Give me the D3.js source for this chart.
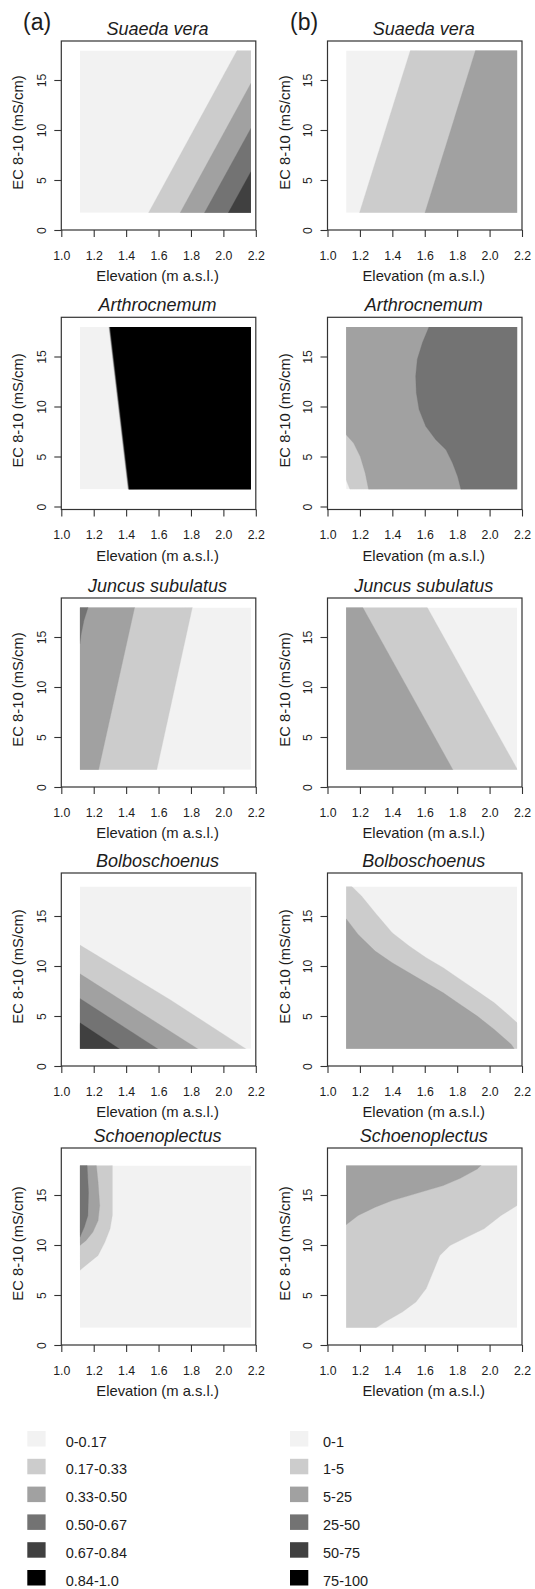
<!DOCTYPE html>
<html><head><meta charset="utf-8">
<script src="https://cdn.jsdelivr.net/npm/d3@7"></script>
<style>
body{margin:0;background:#fff}
svg{display:block}
text{font-family:"Liberation Sans",Arial,sans-serif;fill:#1c1c1c}
</style>
</head><body>
<svg id="chart" width="535" height="1589"></svg>
<script>
// ---------- data ----------
const species = ["Suaeda vera","Arthrocnemum","Juncus subulatus","Bolboschoenus","Schoenoplectus"];
const panelLabels = ["(a)","(b)"];
const xTicks = [1.0,1.2,1.4,1.6,1.8,2.0,2.2];
const yTicks = [0,5,10,15];
const classColors = ["#f2f2f2","#cccccc","#a1a1a1","#737373","#404040","#000000"];
const legendA = ["0-0.17","0.17-0.33","0.33-0.50","0.50-0.67","0.67-0.84","0.84-1.0"];
const legendB = ["0-1","1-5","5-25","25-50","50-75","75-100"];
// extent of the predicted grid (elevation, EC)
const gridX = [1.115, 2.17];
const gridY = [1.72, 17.95];

// class boundaries: each layer = region with class >= cls
const suaedaA = [
  {cls:1, line:[[1.536,1.65],[2.086,18]], corners:["TR","BR"]},
  {cls:2, line:[[1.731,1.65],[2.17,14.67]], corners:["BR"]},
  {cls:3, line:[[1.881,1.65],[2.17,10.17]], corners:["BR"]},
  {cls:4, line:[[2.028,1.65],[2.17,5.83]], corners:["BR"]}
];
const suaedaB = [
  {cls:1, line:[[1.196,1.65],[1.512,18]], corners:["TR","BR"]},
  {cls:2, line:[[1.600,1.65],[1.914,18]], corners:["TR","BR"]}
];
const arthroA = [
  {cls:1, line:[[1.412,1.65],[1.293,18]], corners:["TR","BR"]},
  {cls:2, line:[[1.414,1.65],[1.295,18]], corners:["TR","BR"]},
  {cls:3, line:[[1.416,1.65],[1.297,18]], corners:["TR","BR"]},
  {cls:4, line:[[1.418,1.65],[1.299,18]], corners:["TR","BR"]},
  {cls:5, line:[[1.420,1.65],[1.301,18]], corners:["TR","BR"]}
];
const arthroB = [
  {cls:1, line:[[1.115,2.66],[1.125,2.25],[1.14,1.65]], corners:["BR","TR","TL"]},
  {cls:2, line:[[1.115,7.18],[1.161,6.34],[1.202,5.0],[1.233,3.33],[1.254,1.65]], corners:["BR","TR","TL"]},
  {cls:3, line:[[1.627,18],[1.586,16.39],[1.554,14.72],[1.544,13.04],[1.548,11.37],[1.565,9.69],[1.606,8.02],[1.668,6.68],[1.731,5.67],[1.772,4.33],[1.803,2.99],[1.824,1.65]], corners:["BR","TR"]}
];
const juncusA = [
  {cls:1, line:[[1.588,1.65],[1.809,18]], corners:["TL","BL"]},
  {cls:2, line:[[1.229,1.65],[1.453,18]], corners:["TL","BL"]},
  {cls:3, line:[[1.166,18],[1.140,16.67],[1.123,15.33],[1.115,14.33]], corners:["TL"]}
];
const juncusB = [
  {cls:1, line:[[1.614,18],[2.17,1.8]], corners:["BR","BL","TL"]},
  {cls:2, line:[[1.216,18],[1.776,1.65]], corners:["BL","TL"]}
];
const bolboA = [
  {cls:1, line:[[1.115,12.09],[1.674,6.6],[2.145,1.65]], corners:["BL"]},
  {cls:2, line:[[1.115,9.22],[1.848,1.65]], corners:["BL"]},
  {cls:3, line:[[1.115,6.75],[1.601,1.65]], corners:["BL"]},
  {cls:4, line:[[1.115,4.32],[1.364,1.65]], corners:["BL"]}
];
const bolboB = [
  {cls:1, line:[[1.147,18],[1.210,17.0],[1.294,15.33],[1.399,13.33],[1.504,11.99],[1.609,10.83],[1.714,9.82],[1.819,8.66],[1.924,7.49],[2.029,6.32],[2.113,5.15],[2.17,4.32]], corners:["BR","BL","TL"]},
  {cls:2, line:[[1.115,14.73],[1.189,13.16],[1.294,11.49],[1.399,10.33],[1.504,9.32],[1.609,8.32],[1.714,7.32],[1.819,6.15],[1.924,4.99],[2.029,3.65],[2.134,2.15],[2.155,1.65]], corners:["BL"]}
];
const schoenoA = [
  {cls:1, line:[[1.315,18],[1.315,12.95],[1.301,11.62],[1.269,10.29],[1.227,8.96],[1.164,8.13],[1.115,7.47]], corners:["TL"]},
  {cls:2, line:[[1.216,18],[1.227,16.27],[1.237,13.95],[1.227,12.45],[1.195,11.29],[1.153,10.46],[1.115,9.96]], corners:["TL"]},
  {cls:3, line:[[1.159,18],[1.168,15.28],[1.164,12.95],[1.142,11.79],[1.115,10.79]], corners:["TL"]}
];
const schoenoB = [
  {cls:1, line:[[1.294,1.65],[1.357,2.32],[1.462,3.31],[1.546,4.31],[1.609,5.64],[1.651,7.30],[1.693,8.96],[1.756,9.96],[1.861,10.79],[1.966,11.62],[2.071,12.95],[2.17,13.95]], corners:["TR","TL","BL"]},
  {cls:2, line:[[1.115,12.02],[1.189,12.95],[1.294,13.78],[1.399,14.44],[1.504,14.94],[1.609,15.44],[1.714,15.94],[1.819,16.67],[1.924,17.60],[1.949,18]], corners:["TL"]}
];
const panelsA = [suaedaA, arthroA, juncusA, bolboA, schoenoA];
const panelsB = [suaedaB, arthroB, juncusB, bolboB, schoenoB];

// ---------- layout ----------
const colX = [61.3, 327.5];
const plotW = 194.5;
const rowBottom = [230, 509.5, 787, 1066, 1345];
const rowTop = [41, 317.3, 598, 873, 1148];
const rowYAtBottom = [0, -0.3, 0, 0, 0];
const pxPerUnit = 10;

const svg = d3.select("#chart");
const cornerPts = {
  TL:[gridX[0]-0.05, gridY[1]+0.6], TR:[gridX[1]+0.05, gridY[1]+0.6],
  BR:[gridX[1]+0.05, gridY[0]-0.6], BL:[gridX[0]-0.05, gridY[0]-0.6]
};

function drawPanel(col, row, layers){
  const x0 = colX[col];
  const bottom = rowBottom[row], top = rowTop[row];
  const plotH = bottom - top;
  const yb = rowYAtBottom[row];
  const x = d3.scaleLinear().domain([1.0,2.2]).range([x0, x0+plotW]);
  const y = d3.scaleLinear().domain([yb, yb + plotH/pxPerUnit]).range([bottom, top]);
  const g = svg.append("g");
  const id = "clip"+col+"_"+row;
  g.append("clipPath").attr("id", id).append("rect")
    .attr("x", x(gridX[0])).attr("y", y(gridY[1]))
    .attr("width", x(gridX[1])-x(gridX[0])).attr("height", y(gridY[0])-y(gridY[1]));
  const fillG = g.append("g").attr("clip-path","url(#"+id+")");
  fillG.append("rect")
    .attr("x", x(gridX[0])).attr("y", y(gridY[1]))
    .attr("width", x(gridX[1])-x(gridX[0])).attr("height", y(gridY[0])-y(gridY[1]))
    .attr("fill", classColors[0]);
  const line = d3.line().x(d=>x(d[0])).y(d=>y(d[1]));
  layers.forEach(L=>{
    const pts = L.line.concat(L.corners.map(c=>cornerPts[c]));
    fillG.append("path").attr("d", line(pts)+"Z")
      .attr("fill", classColors[L.cls]).attr("stroke", classColors[L.cls]).attr("stroke-width",0.3);
  });
  // box
  g.append("rect").attr("x", x0).attr("y", top).attr("width", plotW).attr("height", plotH)
    .attr("fill","none").attr("stroke","#333").attr("stroke-width",1.2);
  // x axis
  const xa = g.append("g").attr("transform","translate(0,"+bottom+")")
    .call(d3.axisBottom(x).tickValues(xTicks).tickFormat(d3.format(".1f")).tickSize(7).tickPadding(14));
  xa.select(".domain").remove();
  xa.selectAll(".tick line").attr("stroke","#333").attr("stroke-width",1.1);
  xa.selectAll(".tick text").attr("y", 29.5).attr("dy",0).attr("font-size",12.3)
    .attr("font-family","Liberation Sans, Arial, sans-serif").attr("fill","#1c1c1c");
  // y axis
  const ya = g.append("g").attr("transform","translate("+x0+",0)")
    .call(d3.axisLeft(y).tickValues(yTicks).tickSize(7));
  ya.select(".domain").remove();
  ya.selectAll(".tick line").attr("stroke","#333").attr("stroke-width",1.1);
  ya.selectAll(".tick text").attr("transform","rotate(-90)").attr("x",0).attr("y",-15.3).attr("dy",0)
    .attr("text-anchor","middle").attr("font-size",12.3)
    .attr("font-family","Liberation Sans, Arial, sans-serif").attr("fill","#1c1c1c");
  // titles
  g.append("text").attr("x", x0+plotW/2-1).attr("y", bottom+51).attr("text-anchor","middle")
    .attr("font-size",14.8).text("Elevation (m a.s.l.)");
  g.append("text").attr("transform","translate("+(x0-38)+","+((top+bottom)/2-3)+") rotate(-90)")
    .attr("text-anchor","middle").attr("font-size",14.8).text("EC 8-10 (mS/cm)");
  g.append("text").attr("x", x0+plotW/2-1).attr("y", top-6.5).attr("text-anchor","middle")
    .attr("font-size",18).attr("font-style","italic").text(species[row]);
}

panelsA.forEach((p,i)=>drawPanel(0,i,p));
panelsB.forEach((p,i)=>drawPanel(1,i,p));

// panel letters
const letterX = [23, 290];
panelLabels.forEach((t,i)=>{
  svg.append("text").attr("x", letterX[i]).attr("y", 29.5)
    .attr("font-family","Lato, 'Open Sans', sans-serif").attr("font-size",23).text(t);
});

// legends
const legendSets = [legendA, legendB];
const legX = [27.3, 290], legTextX = [65.7, 323];
legendSets.forEach((labels,j)=>{
  const lg = svg.append("g");
  labels.forEach((lab,i)=>{
    const top = 1431 + i*27.8;
    lg.append("rect").attr("x", legX[j]).attr("y", top).attr("width",18.3).attr("height",15.5)
      .attr("fill", classColors[i]);
    lg.append("text").attr("x", legTextX[j]).attr("y", top+15.5).attr("font-size",14.5).text(lab);
  });
});
</script>
</body></html>
